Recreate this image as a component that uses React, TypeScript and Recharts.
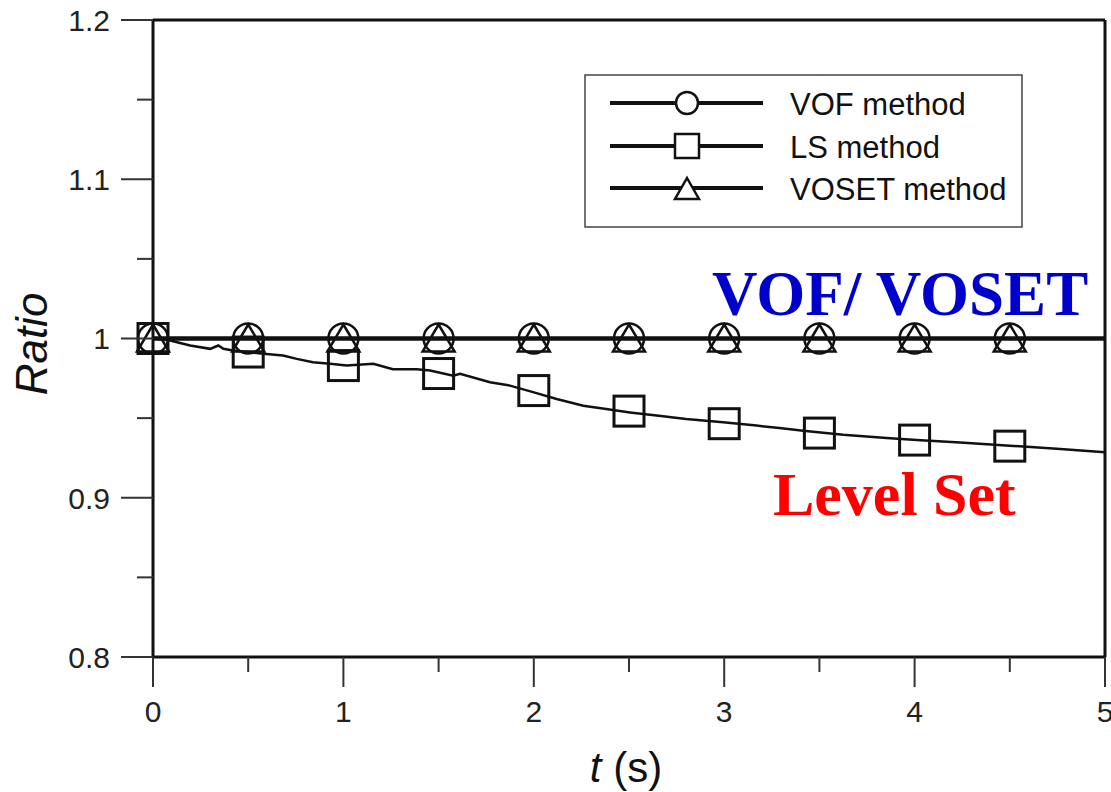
import React from 'react';
import { ComposedChart, Line, Scatter, XAxis, YAxis, ReferenceLine } from 'recharts';

// time axis and ratio axis ticks
const xTicks = [0, 0.5, 1, 1.5, 2, 2.5, 3, 3.5, 4, 4.5, 5];
const yTicks = [0.8, 0.85, 0.9, 0.95, 1, 1.05, 1.1, 1.15, 1.2];

// VOF and VOSET stay at 1
const flatTime = [0, 0.5, 1, 1.5, 2, 2.5, 3, 3.5, 4, 4.5, 5];
const vofRatio = [1, 1, 1, 1, 1, 1, 1, 1, 1, 1, 1];
const vosetRatio = [1, 1, 1, 1, 1, 1, 1, 1, 1, 1, 1];

// marker positions
const markerTime = [0, 0.5, 1, 1.5, 2, 2.5, 3, 3.5, 4, 4.5];
const vofMarkerRatio = [1, 1, 1, 1, 1, 1, 1, 1, 1, 1];
const vosetMarkerRatio = [1, 1, 1, 1, 1, 1, 1, 1, 1, 1];
const lsMarkerRatio = [1, 0.9915, 0.983, 0.978, 0.9673, 0.9544, 0.9465, 0.9406, 0.9362, 0.9324];

// LS curve
const lsCurveTime = [
  0, 0.09, 0.195, 0.3, 0.343, 0.37, 0.42, 0.51, 0.58, 0.683, 0.755, 0.84, 0.93, 1.017,
  1.157, 1.26, 1.385, 1.455, 1.577, 1.613, 1.77, 1.875, 1.996, 2.12, 2.26, 2.38, 2.505,
  2.645, 2.8, 2.994, 3.17, 3.29, 3.415, 3.625, 3.853, 4.01, 4.24, 4.5, 4.765, 5,
];
const lsCurveRatio = [
  1, 0.9987, 0.9956, 0.9935, 0.9956, 0.9935, 0.9925, 0.9914, 0.9904, 0.9893, 0.9872, 0.9851,
  0.9841, 0.983, 0.9841, 0.9807, 0.9807, 0.9799, 0.9767, 0.9778, 0.9725, 0.9704, 0.9663,
  0.962, 0.9578, 0.9557, 0.9536, 0.9516, 0.9495, 0.9474, 0.9453, 0.9438, 0.9421, 0.9396,
  0.9375, 0.9362, 0.9347, 0.9327, 0.9306, 0.9285,
];

const zip = (ts: number[], rs: number[]) => ts.map((t, i) => ({ t, ratio: rs[i] }));

const vofLine = zip(flatTime, vofRatio);
const vosetLine = zip(flatTime, vosetRatio);
const lsLine = zip(lsCurveTime, lsCurveRatio);
const vofMarks = zip(markerTime, vofMarkerRatio);
const vosetMarks = zip(markerTime, vosetMarkerRatio);
const lsMarks = zip(markerTime, lsMarkerRatio);

const W = 1111;
const H = 792;
const PLOT = { left: 153, right: 1105, top: 20, bottom: 657 };
const INK = '#111';
const SANS = '"Liberation Sans", Arial, sans-serif';
const SERIF = '"Liberation Serif", "Times New Roman", serif';

const isMajor = (v: number, step: number) => Math.abs(v / step - Math.round(v / step)) < 1e-6;

function YTick(props: any) {
  const { y, payload } = props;
  const v = payload.value;
  const major = isMajor(v, 0.1);
  return (
    <g>
      <line x1={PLOT.left - (major ? 32 : 16)} x2={PLOT.left} y1={y} y2={y} stroke="#333" strokeWidth={2} />
      {major && (
        <text x={110} y={y} dy="0.36em" textAnchor="end" fontSize={30} fontFamily={SANS} fill="#222">
          {String(v)}
        </text>
      )}
    </g>
  );
}

function XTick(props: any) {
  const { x, payload } = props;
  const v = payload.value;
  const major = isMajor(v, 1);
  return (
    <g>
      <line x1={x} x2={x} y1={PLOT.bottom} y2={PLOT.bottom + (major ? 30 : 15)} stroke="#333" strokeWidth={2} />
      {major && (
        <text x={x} y={722} textAnchor="middle" fontSize={30} fontFamily={SANS} fill="#222">
          {String(v)}
        </text>
      )}
    </g>
  );
}

const CircleMark = (p: any) => (
  <circle cx={p.cx} cy={p.cy} r={15} fill="none" stroke={INK} strokeWidth={2.5} />
);
const SquareMark = (p: any) => (
  <rect x={p.cx - 15} y={p.cy - 15} width={30} height={30} fill="none" stroke={INK} strokeWidth={3} />
);
const TriangleMark = (p: any) => (
  <polygon
    points={`${p.cx},${p.cy - 14} ${p.cx + 16},${p.cy + 13} ${p.cx - 16},${p.cy + 13}`}
    fill="none"
    stroke={INK}
    strokeWidth={2.5}
  />
);

const legendRows = [
  { label: 'VOF method', y: 103, mark: 'circle' },
  { label: 'LS method', y: 146, mark: 'square' },
  { label: 'VOSET method', y: 188, mark: 'triangle' },
];

function Overlay() {
  return (
    <svg width={W} height={H} style={{ position: 'absolute', left: 0, top: 0, pointerEvents: 'none' }}>
      <rect x={585} y={75} width={437} height={152} fill="#fff" stroke="#444" strokeWidth={1.5} />
      {legendRows.map((r) => (
        <g key={r.label}>
          <line x1={610} x2={763} y1={r.y} y2={r.y} stroke={INK} strokeWidth={4} />
          {r.mark === 'circle' && <circle cx={687} cy={r.y} r={11} fill="#fff" stroke={INK} strokeWidth={2.5} />}
          {r.mark === 'square' && (
            <rect x={675} y={r.y - 12} width={24} height={24} fill="#fff" stroke={INK} strokeWidth={2.5} />
          )}
          {r.mark === 'triangle' && (
            <polygon
              points={`687,${r.y - 10} 699,${r.y + 11} 675,${r.y + 11}`}
              fill="#fff"
              stroke={INK}
              strokeWidth={2.5}
            />
          )}
          <text x={790} y={r.y + 12} fontSize={31} fontFamily={SANS} fill={INK}>
            {r.label}
          </text>
        </g>
      ))}

      <text x={712} y={315} fontSize={63} fontWeight="bold" fontFamily={SERIF} fill="#0000CC">
        VOF/ VOSET
      </text>
      <text x={773} y={515} fontSize={62} fontWeight="bold" fontFamily={SERIF} fill="#FF0000">
        Level Set
      </text>

      <text
        x={47}
        y={344}
        transform="rotate(-90 47 344)"
        textAnchor="middle"
        fontSize={44}
        fontStyle="italic"
        fontFamily={SANS}
        fill={INK}
      >
        Ratio
      </text>
      <text x={626} y={782} textAnchor="middle" fontSize={42} fontFamily={SANS} fill={INK}>
        <tspan fontStyle="italic">t</tspan> (s)
      </text>
    </svg>
  );
}

export default function App() {
  return (
    <div style={{ position: 'absolute', left: 0, top: 0, width: W, height: H, background: '#fff' }}>
      <ComposedChart
        width={W}
        height={H}
        margin={{ top: PLOT.top, right: W - PLOT.right, bottom: 0, left: 0 }}
      >
        <XAxis
          dataKey="t"
          type="number"
          domain={[0, 5]}
          ticks={xTicks}
          interval={0}
          height={H - PLOT.bottom}
          tick={<XTick />}
          tickLine={false}
          axisLine={{ stroke: INK, strokeWidth: 3 }}
        />
        <YAxis
          dataKey="ratio"
          type="number"
          domain={[0.8, 1.2]}
          ticks={yTicks}
          interval={0}
          width={PLOT.left}
          tick={<YTick />}
          tickLine={false}
          axisLine={{ stroke: INK, strokeWidth: 3 }}
        />
        <ReferenceLine y={1.2} stroke={INK} strokeWidth={3} />
        <ReferenceLine x={5} stroke={INK} strokeWidth={3} />

        <Line data={lsLine} dataKey="ratio" type="linear" stroke={INK} strokeWidth={2.5} dot={false} isAnimationActive={false} />
        <Line data={vofLine} dataKey="ratio" type="linear" stroke={INK} strokeWidth={4} dot={false} isAnimationActive={false} />
        <Line data={vosetLine} dataKey="ratio" type="linear" stroke={INK} strokeWidth={4} dot={false} isAnimationActive={false} />

        <Scatter data={lsMarks} dataKey="ratio" shape={SquareMark} isAnimationActive={false} />
        <Scatter data={vofMarks} dataKey="ratio" shape={CircleMark} isAnimationActive={false} />
        <Scatter data={vosetMarks} dataKey="ratio" shape={TriangleMark} isAnimationActive={false} />
      </ComposedChart>
      <Overlay />
    </div>
  );
}
